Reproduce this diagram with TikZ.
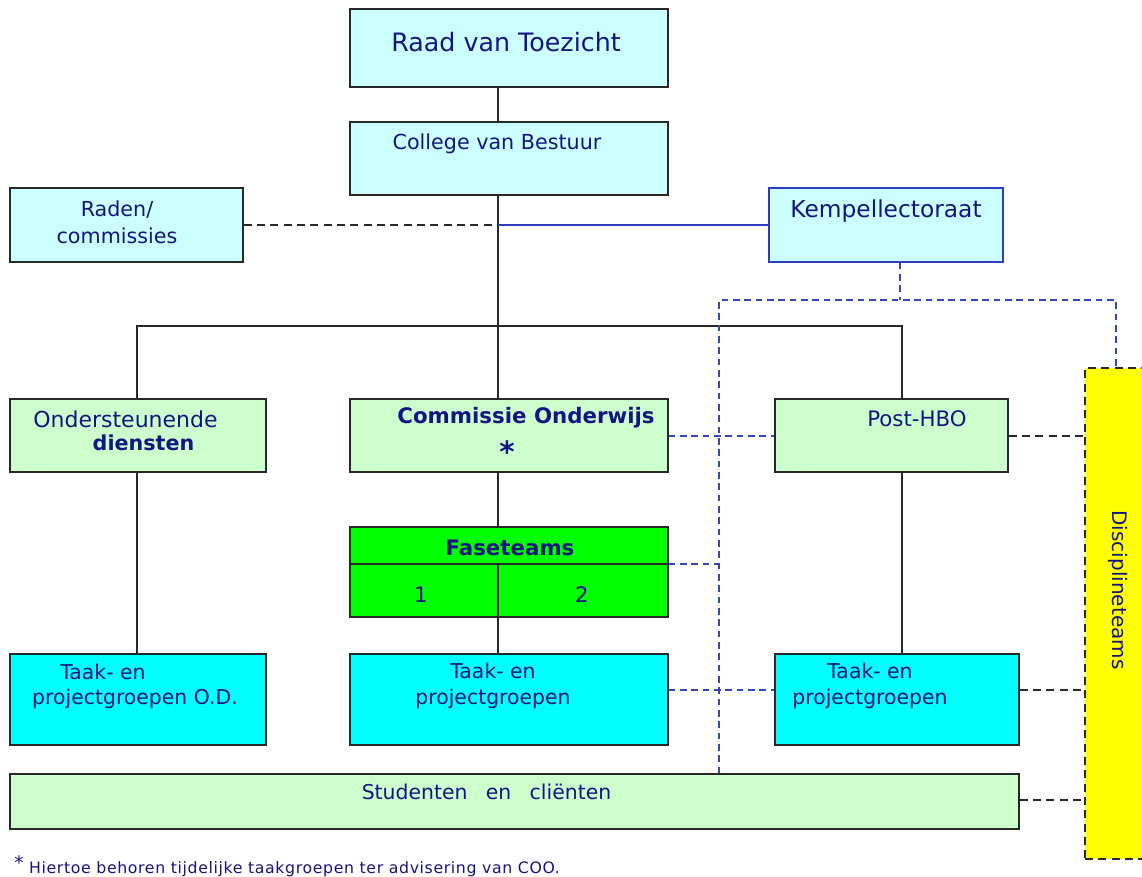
\documentclass[tikz,border=0pt]{standalone}
\usepackage{fontspec}
\setmainfont{DejaVu Sans}
\definecolor{lichtcyaan}{HTML}{CCFFFF}
\definecolor{lichtgroen}{HTML}{CCFFCC}
\definecolor{felgroen}{HTML}{00FF00}
\definecolor{taakcyaan}{HTML}{00FFFF}
\definecolor{geel}{HTML}{FFFF00}
\definecolor{marine}{RGB}{20,20,130}
\definecolor{lijn}{RGB}{40,40,40}
\definecolor{blauw}{RGB}{50,70,190}
\definecolor{kempblauw}{RGB}{45,60,190}
\tikzset{
  blok/.style={draw=lijn,line width=1.2pt,inner sep=0pt},
  tekst/.style={text=marine,inner sep=0pt,align=center},
  verb/.style={lijn,line width=1.2pt},
  stip/.style={lijn,line width=1.2pt,dash pattern=on 6pt off 4pt},
  bstip/.style={blauw,line width=1.2pt,dash pattern=on 5pt off 3.5pt},
}
\begin{document}
\begin{tikzpicture}[x=0.75pt,y=-0.75pt]
\useasboundingbox (0,0) rectangle (1142,876);
\fill[white] (0,0) rectangle (1142,876);
% vakken
\node[blok,fill=lichtcyaan,minimum width=238.5pt,minimum height=58.5pt] (raad) at (509,48) {};
\node[blok,fill=lichtcyaan,minimum width=238.5pt,minimum height=54.75pt] (cvb) at (509,158.5) {};
\node[blok,fill=lichtcyaan,minimum width=174.75pt,minimum height=55.5pt] (raden) at (126.5,225) {};
\node[blok,draw=kempblauw,fill=lichtcyaan,minimum width=175.5pt,minimum height=55.5pt] (kemp) at (886,225) {};
\node[blok,fill=lichtgroen,minimum width=192pt,minimum height=54.75pt] (ond) at (138,435.5) {};
\node[blok,fill=lichtgroen,minimum width=238.5pt,minimum height=54.75pt] (com) at (509,435.5) {};
\node[blok,fill=lichtgroen,minimum width=174.75pt,minimum height=54.75pt] (post) at (891.5,435.5) {};
\node[blok,fill=felgroen,minimum width=238.5pt,minimum height=67.5pt] (fase) at (509,572) {};
\node[blok,fill=taakcyaan,minimum width=192pt,minimum height=68.25pt] (tpl) at (138,699.5) {};
\node[blok,fill=taakcyaan,minimum width=238.5pt,minimum height=68.25pt] (tpm) at (509,699.5) {};
\node[blok,fill=taakcyaan,minimum width=183pt,minimum height=68.25pt] (tpr) at (897,699.5) {};
\node[blok,fill=lichtgroen,minimum width=756.75pt,minimum height=41.25pt] (stud) at (514.5,801.5) {};
\node[blok,fill=geel,dash pattern=on 6pt off 4pt,minimum width=60pt,minimum height=368.25pt] (disc) at (1125,613.5) {};

% hulppunten
\coordinate (as) at (498,0);
\coordinate (hl) at (137,326);
\coordinate (hr) at (902,326);
\coordinate (bl) at (719,300);
\coordinate (br) at (1116,300);
\coordinate (kv) at (900,300);
\coordinate (fh) at (0,564);
\coordinate (py) at (0,436);
\coordinate (ly) at (0,690);
\coordinate (sy) at (0,800);

% lijnen
\draw[verb] (raad.south -| as)--(cvb.north -| as);
\draw[verb] (cvb.south -| as)--(com.north -| as);
\draw[verb] (ond.north -| hl)--(hl)--(hr)--(post.north -| hr);
\draw[verb] (ond.south -| hl)--(tpl.north -| hl);
\draw[verb] (post.south -| hr)--(tpr.north -| hr);
\draw[verb] (com.south -| as)--(fase.north -| as);
\draw[verb] (fase.south -| as)--(tpm.north -| as);
\draw[verb] (fase.west |- fh)--(fase.east |- fh);
\draw[verb] (fh -| as)--(fase.south -| as);
\draw[stip] (raden.east)--(raden.east -| as);
\draw[kempblauw,line width=1.2pt] (raden.east -| as)--(kemp.west);
\draw[bstip] (kemp.south -| kv)--(kv);
\draw[bstip] (stud.north -| bl)--(bl)--(br)--(disc.north -| br);
\draw[bstip] (com.east |- py)--(post.west |- py);
\draw[bstip] (fase.east |- fh)--(fh -| bl);
\draw[bstip] (tpm.east |- ly)--(tpr.west |- ly);
\draw[stip] (post.east |- py)--(disc.west |- py);
\draw[stip] (tpr.east |- ly)--(disc.west |- ly);
\draw[stip] (stud.east |- sy)--(disc.west |- sy);

% teksten
\node[tekst,font=\fontsize{19}{23}\selectfont] (traad) at (506,42) {Raad van Toezicht};
\node[tekst,font=\fontsize{15.5}{19}\selectfont] (tcvb) at (497,144) {College van Bestuur};
\node[tekst,font=\fontsize{15.5}{20}\selectfont] (traden) at (117,222) {Raden/\\commissies};
\node[tekst,font=\fontsize{17.5}{21}\selectfont] (tkemp) at (886,211) {Kempellectoraat};
\node[tekst,font=\fontsize{16.5}{20}\selectfont] (tond) at (125.5,419) {Ondersteunende};
\node[tekst,font=\fontsize{15.5}{20}\selectfont\bfseries] (tdiensten) at (143.5,443) {diensten};
\node[tekst,font=\fontsize{16}{20}\selectfont\bfseries] (tcom) at (526,418) {Commissie Onderwijs};
\node[tekst,font=\fontsize{22}{24}\selectfont\bfseries] (tster) at (507,452) {*};
\node[tekst,font=\fontsize{16}{20}\selectfont] (tpost) at (917,419) {Post-HBO};
\node[tekst,font=\fontsize{16}{20}\selectfont\bfseries] (tfase) at (510,548) {Faseteams};
\node[tekst,font=\fontsize{16}{20}\selectfont] (teen) at (421,595) {1};
\node[tekst,font=\fontsize{16}{20}\selectfont] (ttwee) at (582,595) {2};
\node[tekst,font=\fontsize{15.3}{19.5}\selectfont] (ttpl1) at (103,672) {Taak- en};
\node[tekst,font=\fontsize{15.3}{19.5}\selectfont] (ttpl2) at (135,699) {projectgroepen O.D.};
\node[tekst,font=\fontsize{15.3}{19.5}\selectfont] (ttpm) at (493,686) {Taak- en\\projectgroepen};
\node[tekst,font=\fontsize{15.3}{19.5}\selectfont] (ttpr) at (870,686) {Taak- en\\projectgroepen};
\node[tekst,font=\fontsize{15.3}{19.5}\selectfont] (tstud) at (486.5,792) {Studenten\hspace{0.9em}en\hspace{0.9em}cliënten};
\node[tekst,rotate=-90,font=\fontsize{15}{19}\selectfont] (tdisc) at (1118,590) {Disciplineteams};
\node[tekst,anchor=west,font=\fontsize{11.8}{14}\selectfont\addfontfeatures{LetterSpace=4}] (tnoot) at (14,866) {\raisebox{3pt}{\fontsize{14}{14}\selectfont *} Hiertoe behoren tijdelijke taakgroepen ter advisering van COO.};

\end{tikzpicture}
\end{document}
